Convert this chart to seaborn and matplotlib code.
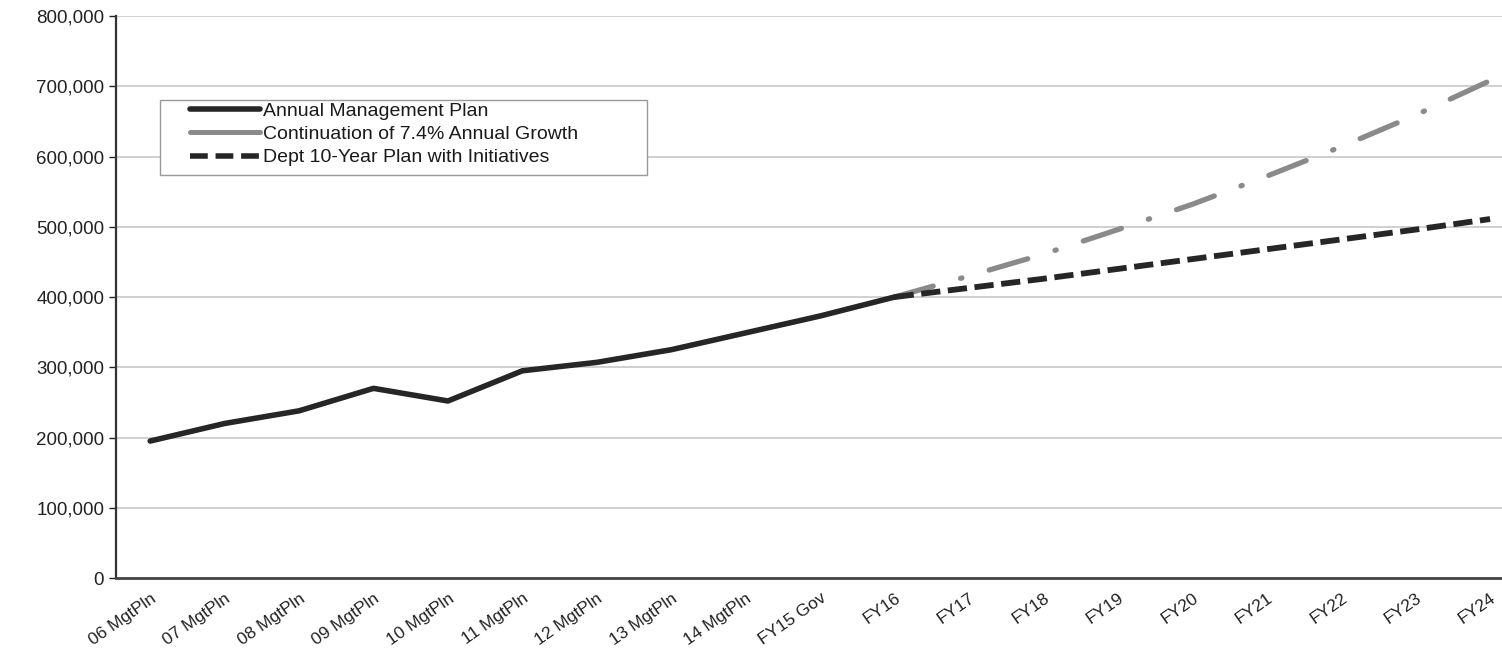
import matplotlib
matplotlib.use("Agg")
import matplotlib.pyplot as plt
import seaborn as sns
import pandas as pd
import numpy as np
from matplotlib.lines import Line2D
from matplotlib.patches import Rectangle
from matplotlib.ticker import FuncFormatter

categories = ["06 MgtPln", "07 MgtPln", "08 MgtPln", "09 MgtPln", "10 MgtPln",
              "11 MgtPln", "12 MgtPln", "13 MgtPln", "14 MgtPln", "FY15 Gov",
              "FY16", "FY17", "FY18", "FY19", "FY20", "FY21", "FY22", "FY23", "FY24"]

mgmt_plan = [195000, 220000, 238000, 270000, 252000, 295000, 307000, 325000,
             349000, 373000, 400000]
growth_74 = [400000, 430000, 461000, 496000, 532000, 572000, 614000, 659000, 708000]
dept_plan = [400000, 413000, 426000, 440000, 454000, 468000, 482000, 496000, 511000]

labels = ["Annual Management Plan", "Continuation of 7.4% Annual Growth",
          "Dept 10-Year Plan with Initiatives"]

sns.set_style("white")
plt.rcParams["font.family"] = ["Liberation Sans", "DejaVu Sans"]

fig = plt.figure(figsize=(15.02, 6.51), dpi=100)
ax = fig.add_axes([0.0772, 0.1121, 0.9228, 0.8633])

df_m = pd.DataFrame({"x": np.arange(len(mgmt_plan)), "y": mgmt_plan})
df_g = pd.DataFrame({"x": np.arange(10, 10 + len(growth_74)), "y": growth_74})
df_d = pd.DataFrame({"x": np.arange(10, 10 + len(dept_plan)), "y": dept_plan})

GREY = "#8a8a8a"
DARK = "#262626"

sns.lineplot(data=df_g, x="x", y="y", ax=ax, color=GREY, linewidth=3.8,
             zorder=3)
lg = ax.lines[-1]
lg.set_dashes([7.6, 5.4, 0.25, 5.4])
lg.set_dash_capstyle("round")
sns.lineplot(data=df_d, x="x", y="y", ax=ax, color=DARK, linewidth=4.2,
             zorder=4)
ld = ax.lines[-1]
ld.set_dashes([3.3, 1.3])
sns.lineplot(data=df_m, x="x", y="y", ax=ax, color=DARK, linewidth=4.0,
             zorder=5)
ax.lines[-1].set_solid_capstyle("round")

ax.set_xlim(-0.46, 18.16)
ax.set_ylim(0, 800000)
ax.set_yticks(np.arange(0, 800001, 100000))
ax.yaxis.set_major_formatter(FuncFormatter(lambda v, p: f"{int(v):,}"))
ax.set_xticks(np.arange(len(categories)))
ax.set_xticklabels(categories, rotation=35, ha="right", rotation_mode="anchor",
                   fontsize=12.5, color="#222222")
ax.tick_params(axis="y", labelsize=13.5, colors="#222222", length=5,
               direction="out", left=True, width=1)
ax.tick_params(axis="x", length=0, pad=9)
ax.set_xlabel("")
ax.set_ylabel("")

ax.yaxis.grid(True, color="#c8c8c8", linewidth=1.2)
ax.xaxis.grid(False)
ax.set_axisbelow(True)
for s in ["top", "right"]:
    ax.spines[s].set_visible(False)
ax.spines["left"].set_color("#333333")
ax.spines["left"].set_linewidth(1.6)
ax.spines["bottom"].set_color("#444444")
ax.spines["bottom"].set_linewidth(2.0)

# legend box (pixel coords of reference: x 160-647, y 100-175)
W, H = 1502, 651
box = Rectangle((160 / W, 1 - 175 / H), (647 - 160) / W, 75 / H,
                transform=fig.transFigure, fill=True, facecolor="white",
                edgecolor="#9a9a9a", linewidth=1.0, zorder=6)
fig.patches.append(box)

handles = [
    Line2D([], [], color=DARK, linewidth=4.0),
    Line2D([], [], color=GREY, linewidth=3.6),
    Line2D([], [], color=DARK, linewidth=4.0, dashes=[3.2, 1.4]),
]
leg = fig.legend(handles, labels, loc="upper left",
                 bbox_to_anchor=(190 / W, 1 - 102 / H), fontsize=14,
                 frameon=False, handlelength=3.6, handletextpad=0.15,
                 labelspacing=0.3, borderpad=0, borderaxespad=0)
leg.set_zorder(7)
for t in leg.get_texts():
    t.set_color("#1a1a1a")

fig.savefig("out.png", dpi=100)
